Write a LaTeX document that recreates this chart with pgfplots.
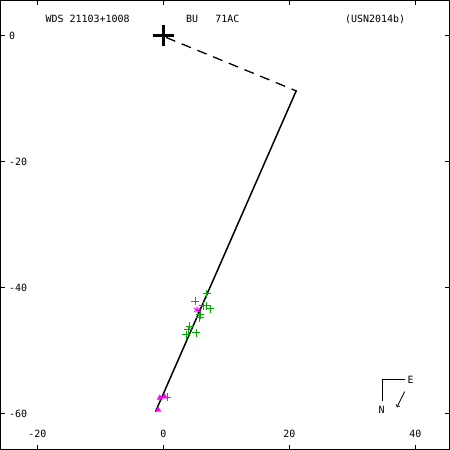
\documentclass[border=0pt]{standalone}
\usepackage{fontspec}
\setmainfont{DejaVu Sans Mono}
\usepackage{pgfplots}
\pgfplotsset{compat=1.18}
\definecolor{ogreen}{RGB}{0,170,0}
\definecolor{omag}{RGB}{255,0,255}
\begin{document}
\fontsize{10bp}{12bp}\selectfont
\begin{tikzpicture}
\begin{axis}[
  width=450bp, height=450bp, scale only axis,
  xmin=-25.87, xmax=45.4, ymin=-65.7, ymax=5.56,
  axis line style={line width=1bp},
  xtick={-20,0,20,40}, ytick={-60,-40,-20,0},
  tick align=inside, major tick length=5bp,
  tick style={black, line width=1bp},
  /pgf/number format/assume math mode=true,
  tick label style={font=\fontsize{10bp}{12bp}\selectfont},
  yticklabel style={anchor=west, xshift=5bp},
  xticklabel style={anchor=south, yshift=8bp},
  clip=false,
]
% dashed segment
\addplot[black, line width=1.3bp, dash pattern=on 10bp off 7bp] coordinates {(0.4,-0.3) (21.1,-8.8)};
% orbit (very narrow ellipse seen edge-on)
\addplot[black, line width=1.5bp] coordinates {(21.1,-8.7) (-1.27,-59.7)};
% primary
\addplot[black, only marks, mark=+, mark size=11bp, line width=2.2bp] coordinates {(0,0)};
% measures
\addplot[ogreen, only marks, mark=+, mark size=4bp, line width=1bp] coordinates {
(5.08,-42.17) (6.83,-40.95) (6.78,-42.86) (7.46,-43.33) (6.35,-42.86)
(5.87,-44.29) (5.76,-44.76) (4.17,-46.14) (3.92,-46.67) (5.19,-47.14)
(3.65,-47.46) (0.59,-57.41)};
\addplot[omag, only marks, mark=asterisk, mark size=3.5bp, line width=0.9bp] coordinates {(5.35,-43.54)};
\addplot[omag, only marks, mark=triangle*, mark size=3bp] coordinates {(-0.59,-57.5) (0.16,-57.3) (-0.84,-59.4)};
% header texts
\node[anchor=base west, inner sep=0] at (axis description cs:0.1,0.951) {WDS 21103+1008};
\node[anchor=base west, inner sep=0] at (axis description cs:0.413,0.951) {BU};
\node[anchor=base west, inner sep=0] at (axis description cs:0.478,0.951) {71AC};
\node[anchor=base west, inner sep=0] at (axis description cs:0.767,0.951) {(USN2014b)};
% compass
\draw[black, line width=1bp] (axis description cs:0.8511,0.1089) -- (axis description cs:0.8511,0.1556) -- (axis description cs:0.9,0.1556);
\node[inner sep=0] at (axis description cs:0.9133,0.1556) {E};
\node[inner sep=0] at (axis description cs:0.849,0.089) {N};
\draw[black, line width=0.8bp, ->] (axis description cs:0.9,0.1289) -- (axis description cs:0.8829,0.0939);
\end{axis}
\end{tikzpicture}
\end{document}
